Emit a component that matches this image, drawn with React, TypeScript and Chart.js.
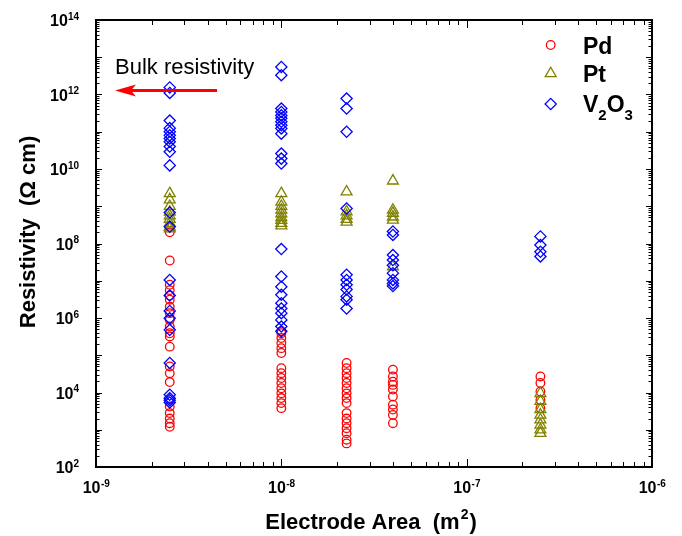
import React, { useEffect, useRef } from "react";
import { Chart, registerables } from "chart.js";

Chart.register(...registerables);

// Electrode areas (m^2)
const areas = [2.5e-9, 1e-8, 2.25e-8, 4e-8, 2.5e-7];

// Resistivity (Ohm cm) per electrode area, in the order of `areas`
const pdValues = [
  [2.0e8, 3.5e7, 7.8e6, 5.6e6, 4.0e6, 3.1e6, 2.0e6, 1.35e6, 8.9e5, 5.9e5, 3.9e5, 3.2e5, 1.7e5, 5.0e4, 3.3e4, 1.9e4, 4.2e3, 2.8e3, 2.0e3, 1.5e3, 1.2e3],
  [4.4e5, 3.9e5, 2.9e5, 2.1e5, 1.55e5, 1.15e5, 4.5e4, 3.3e4, 2.45e4, 1.8e4, 1.3e4, 9.5e3, 7.1e3, 5.2e3, 3.8e3],
  [6.2e4, 4.5e4, 3.3e4, 2.45e4, 1.8e4, 1.3e4, 9.5e3, 7.1e3, 5.2e3, 2.8e3, 2.0e3, 1.5e3, 1.1e3, 8.1e2, 5.4e2, 4.3e2],
  [4.1e4, 2.7e4, 1.95e4, 1.6e4, 1.2e4, 7.8e3, 4.7e3, 3.5e3, 2.5e3, 1.5e3],
  [2.7e4, 1.8e4, 1.07e4, 6.3e3, 3.8e3],
];
const ptValues = [
  [2.2e9, 1.5e9, 1.0e9, 7.0e8, 5.6e8, 4.5e8, 3.5e8, 2.8e8, 2.5e8],
  [2.2e9, 1.3e9, 1.0e9, 7.9e8, 6.3e8, 5.0e8, 4.2e8, 3.5e8, 3.0e8],
  [2.45e9, 7.1e8, 5.6e8, 4.5e8, 3.8e8],
  [4.8e9, 7.9e8, 6.5e8, 5.2e8, 4.3e8, 2.4e7],
  [9.5e3, 5.8e3, 3.5e3, 2.5e3, 1.85e3, 1.35e3, 1.0e3, 8.1e2],
];
const v2o3Values = [
  [1.55e12, 1.1e12, 2.0e11, 1.25e11, 1.0e11, 8.0e10, 6.6e10, 5.4e10, 4.0e10, 2.9e10, 1.25e10, 6.8e8, 2.8e8, 1.05e7, 4.0e6, 1.55e6, 9.8e5, 4.8e5, 6.2e4, 8.7e3, 7.0e3, 6.2e3, 5.4e3],
  [5.5e12, 3.3e12, 4.2e11, 3.4e11, 2.75e11, 2.3e11, 1.85e11, 1.5e11, 1.23e11, 8.9e10, 2.6e10, 1.9e10, 1.4e10, 7.1e7, 1.3e7, 6.9e6, 4.2e6, 2.5e6, 1.8e6, 1.35e6, 8.9e5, 5.9e5, 4.4e5],
  [7.8e11, 4.2e11, 1.0e11, 8.7e8, 1.45e7, 1.05e7, 7.8e6, 5.8e6, 3.8e6, 3.1e6, 1.8e6],
  [2.1e8, 1.7e8, 4.9e7, 3.6e7, 2.6e7, 1.6e7, 1.05e7, 8.5e6, 7.2e6],
  [1.55e8, 9.1e7, 6.0e7, 4.5e7],
];

const seriesNames = ["Pd", "Pt", "V2O3"];
const seriesColors = ["#ff0000", "#808000", "#0000ff"];

const xTickExps = [-9, -8, -7, -6];
const yTickExps = [2, 4, 6, 8, 10, 12, 14];

const FONT = '"Liberation Sans", Arial, Helvetica, sans-serif';

const markerKinds = ["circle", "triangle", "rectRot"];
const markerRadii = [4.3, 6.3, 5.6];

function toPoints(cols: number[][]) {
  const pts: { x: number; y: number }[] = [];
  cols.forEach((vals, i) => vals.forEach((v) => pts.push({ x: areas[i], y: v })));
  return pts;
}

function drawMarker(ctx: CanvasRenderingContext2D, kind: string, r: number, x: number, y: number, color: string) {
  ctx.save();
  ctx.strokeStyle = color;
  ctx.lineWidth = 1.3;
  ctx.beginPath();
  if (kind === "circle") {
    ctx.arc(x, y, r, 0, Math.PI * 2);
  } else if (kind === "triangle") {
    const h = r * Math.cos(Math.PI / 6);
    ctx.moveTo(x, y - r);
    ctx.lineTo(x + h, y + r / 2);
    ctx.lineTo(x - h, y + r / 2);
    ctx.closePath();
  } else {
    ctx.moveTo(x, y - r);
    ctx.lineTo(x + r, y);
    ctx.lineTo(x, y + r);
    ctx.lineTo(x - r, y);
    ctx.closePath();
  }
  ctx.stroke();
  ctx.restore();
}

const customPlugin = {
  id: "customAxes",
  beforeDatasetsDraw(chart: any) {
    const ctx: CanvasRenderingContext2D = chart.ctx;
    const { left, right, top, bottom } = chart.chartArea;
    const xs = chart.scales.x;
    const ys = chart.scales.y;
    ctx.save();
    ctx.strokeStyle = "#000";
    ctx.lineWidth = 1;
    ctx.beginPath();
    for (let e = -9; e <= -6; e++) {
      for (let m = 1; m <= 9; m++) {
        if (e === -6 && m > 1) break;
        const v = m * Math.pow(10, e);
        const px = Math.round(xs.getPixelForValue(v)) + 0.5;
        const len = m === 1 ? 8 : 5;
        ctx.moveTo(px, bottom);
        ctx.lineTo(px, bottom - len);
        ctx.moveTo(px, top);
        ctx.lineTo(px, top + len);
      }
    }
    for (let e = 2; e <= 14; e++) {
      for (let m = 1; m <= 9; m++) {
        if (e === 14 && m > 1) break;
        const v = m * Math.pow(10, e);
        const py = Math.round(ys.getPixelForValue(v)) + 0.5;
        const len = m === 1 ? 6 : 3.5;
        ctx.moveTo(left, py);
        ctx.lineTo(left + len, py);
        ctx.moveTo(right, py);
        ctx.lineTo(right - len, py);
      }
    }
    ctx.stroke();
    ctx.lineWidth = 2;
    ctx.strokeRect(left, top, right - left, bottom - top);
    ctx.restore();
  },
  afterDraw(chart: any) {
    const ctx: CanvasRenderingContext2D = chart.ctx;
    const { left, right, bottom } = chart.chartArea;
    const xs = chart.scales.x;
    const ys = chart.scales.y;
    ctx.save();
    ctx.fillStyle = "#000";
    ctx.textBaseline = "alphabetic";
    const baseFont = "bold 16px " + FONT;
    const supFont = "bold 10px " + FONT;
    yTickExps.forEach((e) => {
      const py = ys.getPixelForValue(Math.pow(10, e));
      ctx.font = supFont;
      const sw = ctx.measureText(String(e)).width;
      ctx.font = baseFont;
      const bw = ctx.measureText("10").width;
      const xr = left - 17;
      ctx.textAlign = "left";
      ctx.fillText("10", xr - sw - bw, py + 6);
      ctx.font = supFont;
      ctx.fillText(String(e), xr - sw, py - 0.5);
    });
    xTickExps.forEach((e) => {
      const px = xs.getPixelForValue(Math.pow(10, e));
      const sup = "-" + String(-e);
      ctx.font = supFont;
      const sw = ctx.measureText(sup).width;
      ctx.font = baseFont;
      const bw = ctx.measureText("10").width;
      const x0 = px - (sw + bw) / 2;
      ctx.textAlign = "left";
      ctx.fillText("10", x0, bottom + 26);
      ctx.font = supFont;
      ctx.fillText(sup, x0 + bw + 0.5, bottom + 19.5);
    });
    const tFont = "bold 22px " + FONT;
    const tSup = "bold 14px " + FONT;
    ctx.font = tFont;
    const p1 = "Electrode Area  (m";
    const w1 = ctx.measureText(p1).width;
    const w3 = ctx.measureText(")").width;
    ctx.font = tSup;
    const w2 = ctx.measureText("2").width;
    const cx = (left + right) / 2 - 4;
    const x0 = cx - (w1 + w2 + w3) / 2;
    ctx.font = tFont;
    ctx.fillText(p1, x0, 529);
    ctx.font = tSup;
    ctx.fillText("2", x0 + w1 + 1, 519);
    ctx.font = tFont;
    ctx.fillText(")", x0 + w1 + w2 + 2, 529);
    ctx.save();
    ctx.translate(35, 232);
    ctx.rotate(-Math.PI / 2);
    ctx.font = tFont;
    ctx.textAlign = "center";
    ctx.fillText("Resistivity  (\u03A9 cm)", 0, 0);
    ctx.restore();
    const ly = [45, 73.5, 104];
    markerKinds.forEach((k, i) => {
      drawMarker(ctx, k, markerRadii[i], 550.7, ly[i], seriesColors[i]);
    });
    const lFont = "bold 23px " + FONT;
    ctx.font = lFont;
    ctx.textAlign = "left";
    ctx.fillText("Pd", 583, 53.5);
    ctx.fillText("Pt", 583, 82);
    const subFont = "bold 15px " + FONT;
    let tx = 583;
    ctx.font = lFont;
    ctx.fillText("V", tx, 112);
    tx += ctx.measureText("V").width;
    ctx.font = subFont;
    ctx.fillText("2", tx, 120);
    tx += ctx.measureText("2").width;
    ctx.font = lFont;
    ctx.fillText("O", tx, 112);
    tx += ctx.measureText("O").width;
    ctx.font = subFont;
    ctx.fillText("3", tx, 120);
    ctx.font = "22px " + FONT;
    ctx.fillText("Bulk resistivity", 115, 74);
    ctx.strokeStyle = "#ff0000";
    ctx.fillStyle = "#ff0000";
    ctx.lineWidth = 3;
    ctx.beginPath();
    ctx.moveTo(217, 90.5);
    ctx.lineTo(130, 90.5);
    ctx.stroke();
    ctx.beginPath();
    ctx.moveTo(115, 90.5);
    ctx.lineTo(136, 84.5);
    ctx.lineTo(131, 90.5);
    ctx.lineTo(136, 96.5);
    ctx.closePath();
    ctx.fill();
    ctx.restore();
  },
};

export default function App() {
  const ref = useRef<HTMLCanvasElement | null>(null);
  useEffect(() => {
    if (!ref.current) return;
    const seriesData = [pdValues, ptValues, v2o3Values];
    const orders = [2, 1, 0];
    const chart = new Chart(ref.current, {
      type: "scatter",
      data: {
        datasets: seriesData.map((d, i) => ({
          label: seriesNames[i],
          data: toPoints(d),
          pointStyle: markerKinds[i] as any,
          pointRadius: markerRadii[i],
          pointBorderColor: seriesColors[i],
          pointBackgroundColor: "rgba(0,0,0,0)",
          pointBorderWidth: 1.3,
          borderColor: seriesColors[i],
          backgroundColor: "rgba(0,0,0,0)",
          showLine: false,
          order: orders[i],
        })),
      },
      options: {
        animation: false,
        responsive: false,
        devicePixelRatio: 1,
        layout: { padding: { left: 96, right: 30, top: 20, bottom: 69 } },
        plugins: { legend: { display: false }, tooltip: { enabled: false } },
        scales: {
          x: { type: "logarithmic", min: 1e-9, max: 1e-6, display: false },
          y: { type: "logarithmic", min: 1e2, max: 1e14, display: false },
        },
      },
      plugins: [customPlugin],
    });
    return () => chart.destroy();
  }, []);
  return (
    <div style={{ position: "fixed", left: 0, top: 0, width: 682, height: 536, background: "#fff" }}>
      <canvas ref={ref} width={682} height={536} style={{ display: "block" }} />
    </div>
  );
}
